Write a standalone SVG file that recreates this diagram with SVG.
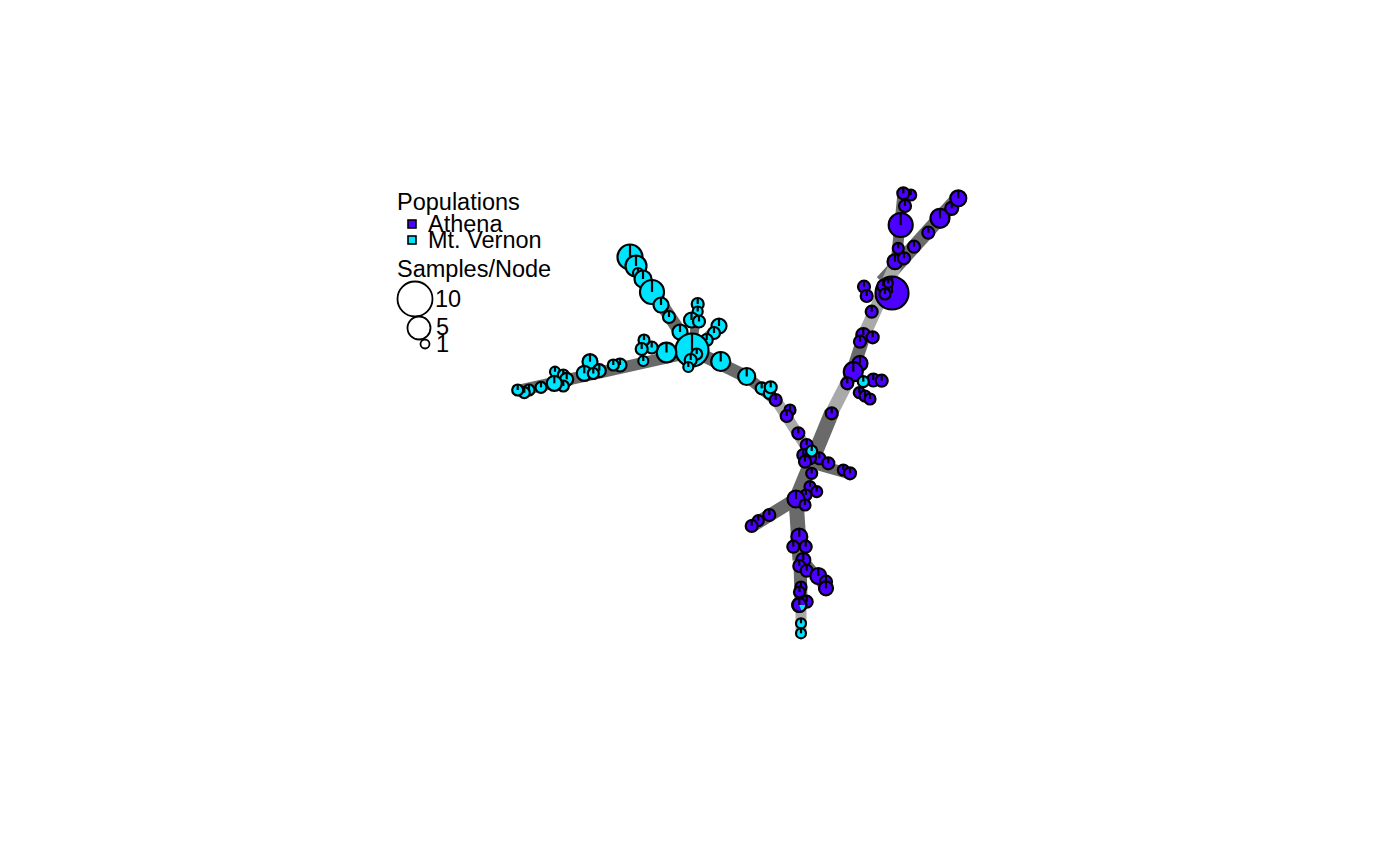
<svg xmlns="http://www.w3.org/2000/svg" width="1400" height="866" viewBox="0 0 1400 866">
<style>
text{font-family:"Liberation Sans",Arial,sans-serif;font-size:23.5px;fill:#000}
.e{stroke-linecap:butt;fill:none}
.d{stroke:#6a6a6a}
.l{stroke:#a9a9a9}
.n circle{stroke:#000;stroke-width:2.2}
.n line{stroke:#000;stroke-width:2.2}
.B{fill:#4C00FF}
.C{fill:#00E5FF}
.lg{fill:#fff;stroke:#000;stroke-width:1.8}
</style>
<rect width="1400" height="866" fill="#fff"/>
<g id="legend">
<text x="397" y="210">Populations</text>
<rect x="408" y="220" width="8" height="8" fill="#4C00FF" stroke="#000" stroke-width="1.6"/>
<text x="428" y="232">Athena</text>
<rect x="408" y="236" width="8" height="8" fill="#00E5FF" stroke="#000" stroke-width="1.6"/>
<text x="428" y="248">Mt. Vernon</text>
<text x="397" y="277">Samples/Node</text>
<circle class="lg" cx="415" cy="299" r="17.5"/>
<text x="435" y="307">10</text>
<circle class="lg" cx="419" cy="328" r="11.5"/>
<text x="436" y="335">5</text>
<circle class="lg" cx="425" cy="344" r="4.5"/>
<text x="436" y="352">1</text>
</g>
<g id="edges">
<line class="e d" x1="630" y1="257" x2="692" y2="350" stroke-width="13"/>
<line class="e d" x1="692" y1="352" x2="517" y2="391" stroke-width="12"/>
<line class="e d" x1="692" y1="350" x2="747" y2="377" stroke-width="13"/>
<line class="e d" x1="747" y1="377" x2="778" y2="402" stroke-width="11"/>
<line class="e l" x1="776" y1="400" x2="808" y2="450" stroke-width="11"/>
<line class="e d" x1="692" y1="350" x2="698" y2="304" stroke-width="9"/>
<line class="e d" x1="692" y1="350" x2="719" y2="326" stroke-width="9"/>
<line class="e d" x1="958" y1="198" x2="882" y2="282" stroke-width="14"/>
<line class="e d" x1="903" y1="193" x2="896" y2="264" stroke-width="11"/>
<line class="e l" x1="897" y1="262" x2="865" y2="333" stroke-width="13"/>
<line class="e d" x1="866" y1="330" x2="851" y2="376" stroke-width="13"/>
<line class="e l" x1="852" y1="373" x2="830" y2="416" stroke-width="13"/>
<line class="e d" x1="832" y1="412" x2="795" y2="502" stroke-width="15"/>
<line class="e d" x1="808" y1="462" x2="850" y2="474" stroke-width="11"/>
<line class="e d" x1="796" y1="499" x2="752" y2="526" stroke-width="13"/>
<line class="e d" x1="796" y1="499" x2="800" y2="560" stroke-width="15"/>
<line class="e d" x1="800" y1="560" x2="801" y2="600" stroke-width="13"/>
<line class="e l" x1="801" y1="598" x2="801" y2="633" stroke-width="11"/>
<line class="e d" x1="803" y1="560" x2="826" y2="588" stroke-width="11"/>
</g>
<g id="nodes">
<g id="n1" class="n"><circle class="C" cx="630" cy="257" r="12.5"/><line x1="630" y1="257" x2="630" y2="244.5"/></g>
<g id="n2" class="n"><circle class="C" cx="636" cy="266" r="10.5"/><line x1="636" y1="266" x2="636" y2="255.5"/></g>
<g id="n3" class="n"><circle class="C" cx="638" cy="273" r="5"/><line x1="638" y1="273" x2="638" y2="268"/></g>
<g id="n4" class="n"><circle class="C" cx="643" cy="279" r="8.5"/><line x1="643" y1="279" x2="643" y2="270.5"/></g>
<g id="n5" class="n"><circle class="C" cx="652" cy="292" r="12"/><line x1="652" y1="292" x2="652" y2="280"/></g>
<g id="n6" class="n"><circle class="C" cx="661" cy="305" r="7.5"/><line x1="661" y1="305" x2="661" y2="297.5"/></g>
<g id="n7" class="n"><circle class="C" cx="669" cy="317" r="6"/><line x1="669" y1="317" x2="669" y2="311"/></g>
<g id="n8" class="n"><circle class="C" cx="680" cy="332" r="7.5"/><line x1="680" y1="332" x2="680" y2="324.5"/></g>
<g id="n9" class="n"><circle class="C" cx="697.7" cy="304" r="6"/><line x1="697.7" y1="304" x2="697.7" y2="298"/></g>
<g id="n10" class="n"><circle class="C" cx="697.7" cy="311.5" r="5"/><line x1="697.7" y1="311.5" x2="697.7" y2="306.5"/></g>
<g id="n11" class="n"><circle class="C" cx="691.5" cy="320" r="7.5"/><line x1="691.5" y1="320" x2="691.5" y2="312.5"/></g>
<g id="n12" class="n"><circle class="C" cx="699" cy="321.5" r="6"/><line x1="699" y1="321.5" x2="699" y2="315.5"/></g>
<g id="n13" class="n"><circle class="C" cx="719" cy="326" r="7.5"/><line x1="719" y1="326" x2="719" y2="318.5"/></g>
<g id="n14" class="n"><circle class="C" cx="714" cy="333" r="6"/><line x1="714" y1="333" x2="714" y2="327"/></g>
<g id="n15" class="n"><circle class="C" cx="706.7" cy="340" r="6"/><line x1="706.7" y1="340" x2="706.7" y2="334"/></g>
<g id="n16" class="n"><circle class="C" cx="692" cy="350" r="16.5"/><line x1="692" y1="350" x2="692" y2="333.5"/></g>
<g id="n17" class="n"><circle class="C" cx="696.7" cy="354" r="5.5"/><line x1="696.7" y1="354" x2="696.7" y2="348.5"/></g>
<g id="n18" class="n"><circle class="C" cx="690.7" cy="360" r="6"/><line x1="690.7" y1="360" x2="690.7" y2="354"/></g>
<g id="n19" class="n"><circle class="C" cx="688.3" cy="367" r="5"/><line x1="688.3" y1="367" x2="688.3" y2="362"/></g>
<g id="n20" class="n"><circle class="C" cx="720.7" cy="361.5" r="9.5"/><line x1="720.7" y1="361.5" x2="720.7" y2="352"/></g>
<g id="n21" class="n"><circle class="C" cx="746.7" cy="376.5" r="8.5"/><line x1="746.7" y1="376.5" x2="746.7" y2="368"/></g>
<g id="n22" class="n"><circle class="C" cx="761.7" cy="388.3" r="6"/><line x1="761.7" y1="388.3" x2="761.7" y2="382.3"/></g>
<g id="n23" class="n"><circle class="C" cx="769.3" cy="393.3" r="5.5"/><line x1="769.3" y1="393.3" x2="769.3" y2="387.8"/></g>
<g id="n24" class="n"><circle class="C" cx="770.7" cy="387.3" r="6"/><line x1="770.7" y1="387.3" x2="770.7" y2="381.3"/></g>
<g id="n25" class="n"><circle class="C" cx="666.5" cy="352.5" r="9.8"/><line x1="666.5" y1="352.5" x2="666.5" y2="342.7"/></g>
<g id="n26" class="n"><circle class="C" cx="651.7" cy="347.5" r="6"/><line x1="651.7" y1="347.5" x2="651.7" y2="341.5"/></g>
<g id="n27" class="n"><circle class="C" cx="644" cy="340" r="5.5"/><line x1="644" y1="340" x2="644" y2="334.5"/></g>
<g id="n28" class="n"><circle class="C" cx="641.7" cy="349" r="6"/><line x1="641.7" y1="349" x2="641.7" y2="343"/></g>
<g id="n29" class="n"><circle class="C" cx="643.3" cy="361" r="5"/><line x1="643.3" y1="361" x2="643.3" y2="356"/></g>
<g id="n30" class="n"><circle class="C" cx="620" cy="365" r="6.5"/><line x1="620" y1="365" x2="620" y2="358.5"/></g>
<g id="n31" class="n"><circle class="C" cx="613.3" cy="365" r="5.5"/><line x1="613.3" y1="365" x2="613.3" y2="359.5"/></g>
<g id="n32" class="n"><circle class="C" cx="590" cy="361.7" r="7.5"/><line x1="590" y1="361.7" x2="590" y2="354.2"/></g>
<g id="n33" class="n"><circle class="C" cx="599.3" cy="370.7" r="6.5"/><line x1="599.3" y1="370.7" x2="599.3" y2="364.2"/></g>
<g id="n34" class="n"><circle class="C" cx="584.3" cy="373.3" r="7.5"/><line x1="584.3" y1="373.3" x2="584.3" y2="365.8"/></g>
<g id="n35" class="n"><circle class="C" cx="593.3" cy="373.5" r="5.5"/><line x1="593.3" y1="373.5" x2="593.3" y2="368"/></g>
<g id="n36" class="n"><circle class="C" cx="555" cy="371.7" r="5"/><line x1="555" y1="371.7" x2="555" y2="366.7"/></g>
<g id="n37" class="n"><circle class="C" cx="563.3" cy="375" r="5.5"/><line x1="563.3" y1="375" x2="563.3" y2="369.5"/></g>
<g id="n38" class="n"><circle class="C" cx="566.7" cy="379.3" r="6.5"/><line x1="566.7" y1="379.3" x2="566.7" y2="372.8"/></g>
<g id="n39" class="n"><circle class="C" cx="563.3" cy="386" r="5.5"/><line x1="563.3" y1="386" x2="563.3" y2="380.5"/></g>
<g id="n40" class="n"><circle class="C" cx="554.3" cy="383.3" r="7.5"/><line x1="554.3" y1="383.3" x2="554.3" y2="375.8"/></g>
<g id="n41" class="n"><circle class="C" cx="541" cy="387.3" r="5.5"/><line x1="541" y1="387.3" x2="541" y2="381.8"/></g>
<g id="n42" class="n"><circle class="C" cx="529" cy="390" r="5.5"/><line x1="529" y1="390" x2="529" y2="384.5"/></g>
<g id="n43" class="n"><circle class="C" cx="524.3" cy="392.7" r="5.5"/><line x1="524.3" y1="392.7" x2="524.3" y2="387.2"/></g>
<g id="n44" class="n"><circle class="C" cx="517.7" cy="390" r="5.5"/><line x1="517.7" y1="390" x2="517.7" y2="384.5"/></g>
<g id="n45" class="n"><circle class="B" cx="775.7" cy="400" r="6"/><line x1="775.7" y1="400" x2="775.7" y2="394"/></g>
<g id="n46" class="n"><circle class="B" cx="790" cy="410" r="5.5"/><line x1="790" y1="410" x2="790" y2="404.5"/></g>
<g id="n47" class="n"><circle class="B" cx="786.7" cy="416" r="6"/><line x1="786.7" y1="416" x2="786.7" y2="410"/></g>
<g id="n48" class="n"><circle class="B" cx="798.3" cy="433.3" r="6"/><line x1="798.3" y1="433.3" x2="798.3" y2="427.3"/></g>
<g id="n49" class="n"><circle class="B" cx="806.7" cy="445" r="6"/><line x1="806.7" y1="445" x2="806.7" y2="439"/></g>
<g id="n50" class="n"><circle class="B" cx="803.3" cy="455" r="6"/><line x1="803.3" y1="455" x2="803.3" y2="449"/></g>
<g id="n51" class="n"><circle class="B" cx="819.3" cy="458.3" r="6"/><line x1="819.3" y1="458.3" x2="819.3" y2="452.3"/></g>
<g id="n52" class="n"><circle class="B" cx="828.3" cy="463.3" r="6"/><line x1="828.3" y1="463.3" x2="828.3" y2="457.3"/></g>
<g id="n53" class="n"><circle class="B" cx="810" cy="458.3" r="6"/><line x1="810" y1="458.3" x2="810" y2="452.3"/></g>
<g id="n54" class="n"><circle class="B" cx="805" cy="461.7" r="6"/><line x1="805" y1="461.7" x2="805" y2="455.7"/></g>
<g id="n55" class="n"><circle class="C" cx="811.7" cy="451" r="5.5"/><line x1="811.7" y1="451" x2="811.7" y2="445.5"/></g>
<g id="n56" class="n"><circle class="B" cx="843.3" cy="470" r="5.5"/><line x1="843.3" y1="470" x2="843.3" y2="464.5"/></g>
<g id="n57" class="n"><circle class="B" cx="850" cy="473.3" r="6"/><line x1="850" y1="473.3" x2="850" y2="467.3"/></g>
<g id="n58" class="n"><circle class="B" cx="811.7" cy="473.3" r="5.5"/><line x1="811.7" y1="473.3" x2="811.7" y2="467.8"/></g>
<g id="n59" class="n"><circle class="B" cx="810" cy="486.7" r="5.5"/><line x1="810" y1="486.7" x2="810" y2="481.2"/></g>
<g id="n60" class="n"><circle class="B" cx="816.7" cy="491.7" r="5.5"/><line x1="816.7" y1="491.7" x2="816.7" y2="486.2"/></g>
<g id="n61" class="n"><circle class="B" cx="806" cy="495" r="5.5"/><line x1="806" y1="495" x2="806" y2="489.5"/></g>
<g id="n62" class="n"><circle class="B" cx="796" cy="499" r="8.5"/><line x1="796" y1="499" x2="796" y2="490.5"/></g>
<g id="n63" class="n"><circle class="B" cx="805" cy="505" r="5.5"/><line x1="805" y1="505" x2="805" y2="499.5"/></g>
<g id="n64" class="n"><circle class="B" cx="769.3" cy="515" r="6"/><line x1="769.3" y1="515" x2="769.3" y2="509"/></g>
<g id="n65" class="n"><circle class="B" cx="758.3" cy="520.7" r="5.5"/><line x1="758.3" y1="520.7" x2="758.3" y2="515.2"/></g>
<g id="n66" class="n"><circle class="B" cx="751.7" cy="526" r="6"/><line x1="751.7" y1="526" x2="751.7" y2="520"/></g>
<g id="n67" class="n"><circle class="B" cx="799.3" cy="536.7" r="8"/><line x1="799.3" y1="536.7" x2="799.3" y2="528.7"/></g>
<g id="n68" class="n"><circle class="B" cx="793.3" cy="546.7" r="6"/><line x1="793.3" y1="546.7" x2="793.3" y2="540.7"/></g>
<g id="n69" class="n"><circle class="B" cx="805.7" cy="546.7" r="6"/><line x1="805.7" y1="546.7" x2="805.7" y2="540.7"/></g>
<g id="n70" class="n"><circle class="B" cx="803.3" cy="560" r="7"/><line x1="803.3" y1="560" x2="803.3" y2="553"/></g>
<g id="n71" class="n"><circle class="B" cx="799.3" cy="566" r="6"/><line x1="799.3" y1="566" x2="799.3" y2="560"/></g>
<g id="n72" class="n"><circle class="B" cx="806.7" cy="570.7" r="6"/><line x1="806.7" y1="570.7" x2="806.7" y2="564.7"/></g>
<g id="n73" class="n"><circle class="B" cx="818.3" cy="576" r="8"/><line x1="818.3" y1="576" x2="818.3" y2="568"/></g>
<g id="n74" class="n"><circle class="B" cx="826" cy="581.7" r="6"/><line x1="826" y1="581.7" x2="826" y2="575.7"/></g>
<g id="n75" class="n"><circle class="B" cx="826" cy="588.3" r="7"/><line x1="826" y1="588.3" x2="826" y2="581.3"/></g>
<g id="n76" class="n"><circle class="B" cx="801" cy="587" r="5.5"/><line x1="801" y1="587" x2="801" y2="581.5"/></g>
<g id="n77" class="n"><circle class="B" cx="799.5" cy="592" r="5.5"/><line x1="799.5" y1="592" x2="799.5" y2="586.5"/></g>
<g id="n78" class="n"><circle class="B" cx="806.7" cy="601.7" r="6"/><line x1="806.7" y1="601.7" x2="806.7" y2="595.7"/></g>
<g id="n79" class="n"><circle class="B" cx="799.3" cy="605" r="7"/><path d="M799.3 605 L806.3 605 A7 7 0 0 1 801.8 611.5 Z" fill="#00E5FF" stroke="none"/><circle cx="799.3" cy="605" r="7" fill="none"/><line x1="799.3" y1="605" x2="799.3" y2="598"/></g>
<g id="n80" class="n"><circle class="C" cx="801" cy="623.3" r="5"/><line x1="801" y1="623.3" x2="801" y2="618.3"/></g>
<g id="n81" class="n"><circle class="C" cx="801" cy="633.3" r="5"/><line x1="801" y1="633.3" x2="801" y2="628.3"/></g>
<g id="n82" class="n"><circle class="B" cx="831.7" cy="413.3" r="6"/><line x1="831.7" y1="413.3" x2="831.7" y2="407.3"/></g>
<g id="n83" class="n"><circle class="B" cx="860" cy="363.3" r="7.5"/><line x1="860" y1="363.3" x2="860" y2="355.8"/></g>
<g id="n84" class="n"><circle class="B" cx="853.3" cy="371.7" r="9.5"/><line x1="853.3" y1="371.7" x2="853.3" y2="362.2"/></g>
<g id="n85" class="n"><circle class="B" cx="847.3" cy="383.3" r="6"/><line x1="847.3" y1="383.3" x2="847.3" y2="377.3"/></g>
<g id="n86" class="n"><circle class="B" cx="873.3" cy="380" r="6.5"/><line x1="873.3" y1="380" x2="873.3" y2="373.5"/></g>
<g id="n87" class="n"><circle class="B" cx="881.7" cy="380.7" r="6"/><line x1="881.7" y1="380.7" x2="881.7" y2="374.7"/></g>
<g id="n88" class="n"><circle class="C" cx="863.3" cy="381.7" r="5.5"/><line x1="863.3" y1="381.7" x2="863.3" y2="376.2"/></g>
<g id="n89" class="n"><circle class="B" cx="859.3" cy="392.7" r="5.5"/><line x1="859.3" y1="392.7" x2="859.3" y2="387.2"/></g>
<g id="n90" class="n"><circle class="B" cx="865" cy="396" r="5.5"/><line x1="865" y1="396" x2="865" y2="390.5"/></g>
<g id="n91" class="n"><circle class="B" cx="870" cy="399" r="5.5"/><line x1="870" y1="399" x2="870" y2="393.5"/></g>
<g id="n92" class="n"><circle class="B" cx="863.3" cy="335" r="7"/><line x1="863.3" y1="335" x2="863.3" y2="328"/></g>
<g id="n93" class="n"><circle class="B" cx="872.7" cy="337.3" r="6"/><line x1="872.7" y1="337.3" x2="872.7" y2="331.3"/></g>
<g id="n94" class="n"><circle class="B" cx="860" cy="341.7" r="6"/><line x1="860" y1="341.7" x2="860" y2="335.7"/></g>
<g id="n95" class="n"><circle class="B" cx="871.7" cy="311.7" r="6"/><line x1="871.7" y1="311.7" x2="871.7" y2="305.7"/></g>
<g id="n96" class="n"><circle class="B" cx="864" cy="286.7" r="6"/><line x1="864" y1="286.7" x2="864" y2="280.7"/></g>
<g id="n97" class="n"><circle class="B" cx="866.7" cy="296" r="6"/><line x1="866.7" y1="296" x2="866.7" y2="290"/></g>
<g id="n98" class="n"><circle class="B" cx="892" cy="293" r="16.5"/><line x1="892" y1="293" x2="892" y2="276.5"/></g>
<g id="n99" class="n"><circle class="B" cx="883.3" cy="286" r="6"/><line x1="883.3" y1="286" x2="883.3" y2="280"/></g>
<g id="n100" class="n"><circle class="B" cx="888.3" cy="283.3" r="4.5"/><line x1="888.3" y1="283.3" x2="888.3" y2="278.8"/></g>
<g id="n101" class="n"><circle class="B" cx="885" cy="294" r="5.5"/><line x1="885" y1="294" x2="885" y2="288.5"/></g>
<g id="n102" class="n"><circle class="B" cx="895" cy="261.7" r="7.5"/><line x1="895" y1="261.7" x2="895" y2="254.2"/></g>
<g id="n103" class="n"><circle class="B" cx="904" cy="258.3" r="6"/><line x1="904" y1="258.3" x2="904" y2="252.3"/></g>
<g id="n104" class="n"><circle class="B" cx="898.3" cy="248.3" r="5.5"/><line x1="898.3" y1="248.3" x2="898.3" y2="242.8"/></g>
<g id="n105" class="n"><circle class="B" cx="914" cy="246.7" r="6"/><line x1="914" y1="246.7" x2="914" y2="240.7"/></g>
<g id="n106" class="n"><circle class="B" cx="928.3" cy="232.7" r="6"/><line x1="928.3" y1="232.7" x2="928.3" y2="226.7"/></g>
<g id="n107" class="n"><circle class="B" cx="940" cy="218.3" r="9.5"/><line x1="940" y1="218.3" x2="940" y2="208.8"/></g>
<g id="n108" class="n"><circle class="B" cx="951.7" cy="208.3" r="6.5"/><line x1="951.7" y1="208.3" x2="951.7" y2="201.8"/></g>
<g id="n109" class="n"><circle class="B" cx="958.3" cy="198.3" r="8"/><line x1="958.3" y1="198.3" x2="958.3" y2="190.3"/></g>
<g id="n110" class="n"><circle class="B" cx="900.7" cy="225" r="12"/><line x1="900.7" y1="225" x2="900.7" y2="213"/></g>
<g id="n111" class="n"><circle class="B" cx="905" cy="206" r="6"/><line x1="905" y1="206" x2="905" y2="200"/></g>
<g id="n112" class="n"><circle class="B" cx="910.7" cy="195" r="5.5"/><line x1="910.7" y1="195" x2="910.7" y2="189.5"/></g>
<g id="n113" class="n"><circle class="B" cx="903.3" cy="193.3" r="6"/><line x1="903.3" y1="193.3" x2="903.3" y2="187.3"/></g>
</g>
</svg>
